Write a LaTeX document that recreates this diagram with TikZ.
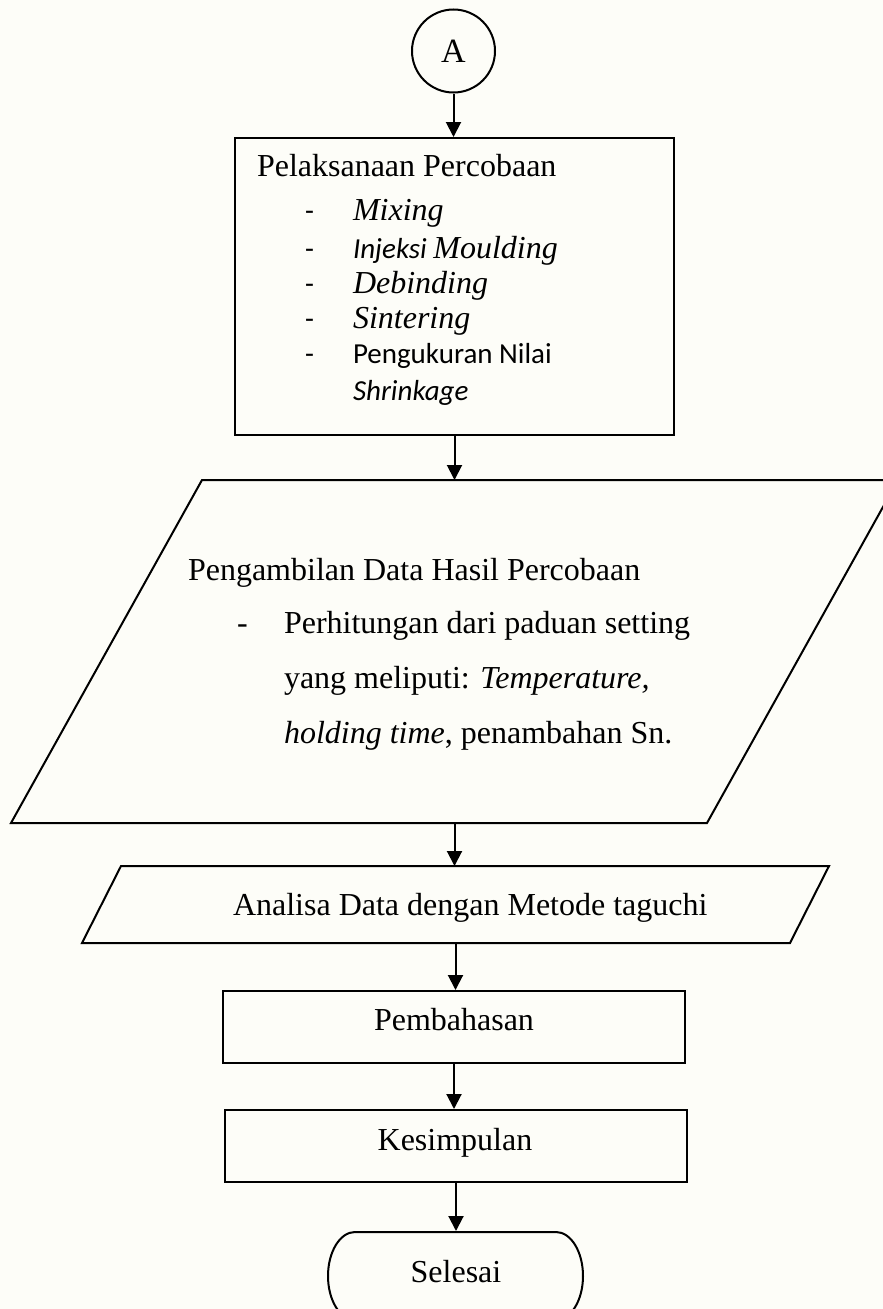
\documentclass[tikz,border=0pt]{standalone}
\usepackage{fontspec}
\setmainfont{Liberation Serif}
\newfontfamily\calibri{Carlito}
\usetikzlibrary{arrows.meta}
\definecolor{bgcream}{RGB}{253,253,248}
\begin{document}
\begin{tikzpicture}[x=1pt,y=-1pt,line width=2pt,
  txt/.style={inner sep=0pt,anchor=base west,font=\fontsize{32}{38}\selectfont},
  ctxt/.style={inner sep=0pt,anchor=base,font=\fontsize{32}{38}\selectfont},
  cal/.style={inner sep=0pt,anchor=base west,font=\calibri\fontsize{29}{35}\selectfont},
  boxnode/.style={draw,inner sep=0pt},
  frame/.style={draw=none,inner sep=0pt},
  arr/.style={-{Triangle[width=15pt,length=15pt]},line width=2pt}]
\useasboundingbox (0,0) rectangle (883,1309);
\clip (0,0) rectangle (883,1309);
\fill[bgcream] (0,0) rectangle (883,1309);

% connector A
\node[draw,circle,minimum size=83pt,inner sep=0pt,font=\fontsize{34}{40}\selectfont] (A) at (453.5,51) {A};

% box 1
\node[boxnode,minimum width=439pt,minimum height=297pt] (b1) at (454.5,286.5) {};
\node[txt] (t1) at (256,176) {Pelaksanaan Percobaan};
\node[cal] (d1) at (304,220) {-};
\node[txt] (i1) at (352,220) {\itshape Mixing};
\node[cal] (d2) at (304,258) {-};
\node[txt] (i2) at (352,258) {{\calibri\fontsize{29}{35}\selectfont\itshape Injeksi }\itshape Moulding};
\node[cal] (d3) at (304,293) {-};
\node[txt] (i3) at (352,293) {\itshape Debinding};
\node[cal] (d4) at (304,328) {-};
\node[txt] (i4) at (352,328) {\itshape Sintering};
\node[cal] (d5) at (304,363) {-};
\node[cal] (i5) at (352,363) {Pengukuran Nilai};
\node[cal] (i6) at (352,400) {\itshape Shrinkage};

% parallelogram 1
\node[frame,minimum width=885pt,minimum height=341pt] (p1) at (454.5,651.5) {};
\draw ([xshift=191pt]p1.north west) -- (p1.north east) -- ([xshift=-191pt]p1.south east) -- (p1.south west) -- cycle;
\node[txt] (t2) at (187,580) {Pengambilan Data Hasil Percobaan};
\node[txt] (d6) at (236,633) {-};
\node[txt] (l1) at (283,633) {Perhitungan dari paduan setting};
\node[txt] (l2) at (283,688) {yang meliputi: \textit{Temperature,}};
\node[txt] (l3) at (283,743) {\textit{holding time}, penambahan Sn.};

% parallelogram 2
\node[frame,minimum width=745pt,minimum height=75pt] (p2) at (455.5,904.5) {};
\draw ([xshift=39pt]p2.north west) -- (p2.north east) -- ([xshift=-39pt]p2.south east) -- (p2.south west) -- cycle;
\node[txt] (t3) at (232,915) {Analisa Data dengan Metode taguchi};

% boxes
\node[boxnode,minimum width=462pt,minimum height=72pt] (b2) at (454,1027) {};
\node[ctxt] (t4) at (454,1030) {Pembahasan};
\node[boxnode,minimum width=462pt,minimum height=72pt] (b3) at (456,1146) {};
\node[ctxt] (t5) at (455,1150) {Kesimpulan};

% terminator
\node[frame,minimum width=255pt,minimum height=88pt] (end) at (455.5,1276) {};
\draw (355,1232) -- (556,1232)
  .. controls (570.9,1232) and (583,1251.7) .. (583,1276)
  .. controls (583,1300.3) and (570.9,1320) .. (556,1320)
  -- (355,1320)
  .. controls (340.1,1320) and (328,1300.3) .. (328,1276)
  .. controls (328,1251.7) and (340.1,1232) .. (355,1232) -- cycle;
\node[ctxt] (t6) at (456,1282) {Selesai};

% connectors
\draw[arr] (A.south) -- (A.south |- b1.north);
\draw[arr] (b1.south) -- (b1.south |- p1.north);
\draw[arr] (p1.south) -- (p1.south |- p2.north);
\draw[arr] (p2.south) -- (p2.south |- b2.north);
\draw[arr] (b2.south) -- (b2.south |- b3.north);
\draw[arr] (b3.south) -- (b3.south |- end.north);
\end{tikzpicture}
\end{document}
